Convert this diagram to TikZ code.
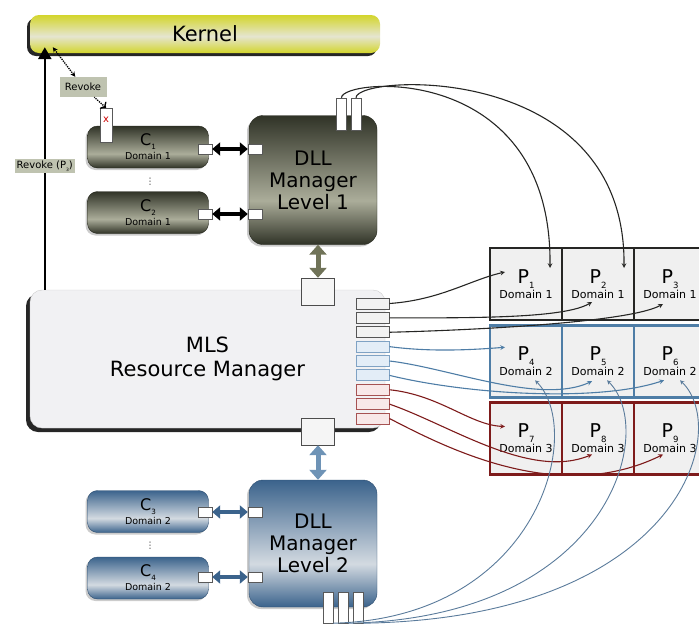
\documentclass[tikz,border=0pt]{standalone}
\usepackage{fontspec}
\setmainfont{DejaVu Sans}
\usepackage{xcolor}
\usepackage{tikz}
\usetikzlibrary{arrows, arrows.meta, positioning, shadows}

\definecolor{kernelyellow}{HTML}{D3D52B}
\definecolor{kernellight}{HTML}{E5E5D0}
\definecolor{olivedark}{HTML}{303327}
\definecolor{olivelight}{HTML}{ABAD9A}
\definecolor{oliveedge}{HTML}{24261C}
\definecolor{bluedark}{HTML}{3B638C}
\definecolor{bluelight}{HTML}{D3DAE1}
\definecolor{blueedge}{HTML}{2E4E70}
\definecolor{mlsgray}{HTML}{F1F1F3}
\definecolor{tagfill}{HTML}{BFC3B0}
\definecolor{rowblack}{HTML}{262624}
\definecolor{rowblue}{HTML}{4E7DA6}
\definecolor{rowred}{HTML}{7E1B1B}
\definecolor{portblack}{HTML}{555555}
\definecolor{portblue}{HTML}{7FA2C4}
\definecolor{portred}{HTML}{A65252}
\definecolor{fillblue}{HTML}{E3EDF7}
\definecolor{fillred}{HTML}{F8E8E8}
\definecolor{curveblue}{HTML}{5A7B9B}
\definecolor{olivearrow}{HTML}{707358}
\definecolor{bluearrow}{HTML}{6E93B6}

\pgfdeclareverticalshading{kernelshade}{100bp}{color(0bp)=(kernelyellow); color(25bp)=(kernelyellow); color(47bp)=(kernellight); color(75bp)=(kernelyellow); color(100bp)=(kernelyellow)}
\pgfdeclareverticalshading{oliveshade}{100bp}{color(0bp)=(olivedark); color(25bp)=(olivedark); color(42bp)=(olivelight); color(75bp)=(olivedark); color(100bp)=(olivedark)}
\pgfdeclareverticalshading{blueshade}{100bp}{color(0bp)=(bluedark); color(25bp)=(bluedark); color(42bp)=(bluelight); color(75bp)=(bluedark); color(100bp)=(bluedark)}

\newcommand{\lowidx}[1]{\raisebox{-0.25em}{\scalebox{0.45}{#1}}}

\tikzstyle{kernelbox} = [rectangle, rounded corners=9pt, minimum width=350pt, minimum height=38pt, shading=kernelshade, font=\fontsize{21}{24}\selectfont, drop shadow={shadow xshift=-3pt, shadow yshift=-3pt, opacity=0.85, fill=black}]
\tikzstyle{client} = [rectangle, rounded corners=10pt, minimum width=121pt, minimum height=42pt, inner sep=0pt, align=center, font=\fontsize{9.5}{14}\selectfont, drop shadow={shadow xshift=-2pt, shadow yshift=-2pt, opacity=0.4}]
\tikzstyle{dll} = [rectangle, rounded corners=14pt, minimum width=128pt, minimum height=129pt, inner sep=0pt, align=center, font=\fontsize{20}{22}\selectfont, drop shadow={shadow xshift=-2pt, shadow yshift=-2pt, opacity=0.4}]
\tikzstyle{mlsbox} = [rectangle, rounded corners=12pt, draw=gray!40, fill=mlsgray, minimum width=355pt, minimum height=138pt, align=center, font=\fontsize{21}{24}\selectfont, drop shadow={shadow xshift=-4pt, shadow yshift=-4pt, opacity=0.85, fill=black}]
\tikzstyle{port} = [rectangle, draw=gray!70!black, fill=white, inner sep=0pt, minimum width=14pt, minimum height=10pt]
\tikzstyle{tallport} = [rectangle, draw=gray!70!black, fill=white, inner sep=0pt, minimum width=10pt, minimum height=32pt]
\tikzstyle{slot} = [rectangle, draw=gray!60!black, fill=gray!8, inner sep=0pt, minimum width=33pt, minimum height=27pt]
\tikzstyle{mport} = [rectangle, inner sep=0pt, minimum width=33pt, minimum height=11pt, line width=1pt]
\tikzstyle{cell} = [rectangle, fill=gray!12, minimum width=72pt, minimum height=72pt, line width=2.5pt, align=center, inner sep=0pt, font=\fontsize{11}{15}\selectfont]
\tikzstyle{tag} = [rectangle, fill=tagfill, inner sep=2pt, font=\fontsize{10}{11}\selectfont]
\tikzstyle{dots} = [inner sep=0pt, text=gray!40!black, font=\fontsize{9}{9}\selectfont]
\tikzstyle{link} = [->, >=stealth, line width=1.1pt]
\tikzstyle{dbl} = [{Triangle[length=8pt,width=13pt]}-{Triangle[length=8pt,width=13pt]}, line width=3.5pt]
\tikzstyle{vdbl} = [{Triangle[length=10pt,width=17pt]}-{Triangle[length=10pt,width=17pt]}, line width=5pt]
\tikzstyle{bigarrow} = [-{Triangle[length=12pt,width=13pt]}, line width=2.5pt]
\tikzstyle{dotarrow} = [densely dotted, line width=1.3pt, {Stealth[length=5pt,width=5pt]}-{Stealth[length=5pt,width=5pt]}]

\begin{document}
\begin{tikzpicture}[x=1pt, y=-1pt]
\useasboundingbox (0,0) rectangle (699,627);

% Kernel
\node[kernelbox] (kernel) at (205,34) {Kernel};

% Level 1 clients and manager
\node[client, shading=oliveshade, draw=oliveedge] (c1) at (148,147) {{\fontsize{16}{14}\selectfont C\lowidx{1}}\\Domain 1};
\node[client, shading=oliveshade, draw=oliveedge] (c2) at (148,212.5) {{\fontsize{16}{14}\selectfont C\lowidx{2}}\\Domain 1};
\node[dots] (gap1) at (150,182) {⋮};
\node[dll, shading=oliveshade, draw=oliveedge] (d1) at (313,180) {DLL\\Manager\\Level 1};
\node[port] (c1port) at (205,149) {};
\node[port] (c2port) at (205,214) {};
\node[port] (d1p1) at (255,149) {};
\node[port] (d1p2) at (255,214) {};
\node[tallport] (d1a) at (341.5,114) {};
\node[tallport] (d1b) at (356,114) {};

% Revoke
\node[tallport, minimum width=12pt, minimum height=34pt] (cut) at (106,125) {};
\node[text=red!80!black, font=\fontsize{10}{10}\selectfont] (cutmark) at (106,120) {x};
\node[tag, minimum width=47pt, minimum height=20pt] (revoke) at (83,87) {Revoke};

% MLS resource manager
\node[mlsbox] (mls) at (207.5,359) {MLS\\Resource Manager};
\node[slot] (mtop) at (318,291.5) {};
\node[slot] (mbot) at (318,431.5) {};
\foreach \i/\clr/\fl in {1/portblack/gray!10, 2/portblack/gray!10, 3/portblack/gray!10, 4/portblue/fillblue, 5/portblue/fillblue, 6/portblue/fillblue, 7/portred/fillred, 8/portred/fillred, 9/portred/fillred}
  \node[mport, draw=\clr, fill=\fl] (mp\i) at (372.5, 303.5+14.375*\i-14.375) {};

% Level 2 clients and manager
\node[client, shading=blueshade, draw=blueedge] (c3) at (148,511.5) {{\fontsize{16}{14}\selectfont C\lowidx{3}}\\Domain 2};
\node[client, shading=blueshade, draw=blueedge] (c4) at (148,578) {{\fontsize{16}{14}\selectfont C\lowidx{4}}\\Domain 2};
\node[dots] (gap2) at (150,546) {⋮};
\node[dll, shading=blueshade, draw=blueedge, minimum height=127pt] (d2) at (313,543.5) {DLL\\Manager\\Level 2};
\node[port] (c3port) at (205,512) {};
\node[port] (c4port) at (205,577) {};
\node[port] (d2p1) at (255,512) {};
\node[port] (d2p2) at (255,577) {};
\node[tallport, minimum height=31pt] (d2a) at (328,607.5) {};
\node[tallport, minimum height=31pt] (d2b) at (343,607.5) {};
\node[tallport, minimum height=31pt] (d2c) at (358,607.5) {};

% Partitions
\foreach \row/\clr in {0/rowblack, 1/rowblue, 2/rowred}
  \foreach \col in {0,1,2} {
    \pgfmathtruncatemacro{\num}{3*\row+\col+1}
    \pgfmathtruncatemacro{\dom}{\row+1}
    \node[cell, draw=\clr] (p\num) at (526+72*\col, 284+77.25*\row) {{\fontsize{19}{15}\selectfont P\lowidx{\num}}\\Domain \dom};
  }

% Connections
\draw[bigarrow] ([xshift=15pt]mls.north west) -- ([xshift=15pt,yshift=6pt]kernel.south west) node[tag, pos=0.51] (revokep) {Revoke (P\lowidx{3})};
\draw[dotarrow] ([xshift=23pt,yshift=6pt]kernel.south west) -- (revoke);
\draw[dotarrow, <-] (cut.north) -- (revoke);
\draw[dbl] (c1port.east) -- (d1p1.west);
\draw[dbl] (c2port.east) -- (d1p2.west);
\draw[dbl, draw=bluedark] (c3port.east) -- (d2p1.west);
\draw[dbl, draw=bluedark] (c4port.east) -- (d2p2.west);
\draw[vdbl, draw=olivearrow] (mtop.north |- d1.south) -- (mtop.north);
\draw[vdbl, draw=bluearrow] (mbot.south) -- (mbot.south |- d2.north);

\draw[link, rowblack] (d1a.north) .. controls (341,78) and (552,60) .. ([shift={(24,-16)}]p1.center);
\draw[link, rowblack] (d1b.north) .. controls (356,74) and (626,60) .. ([shift={(26,-16)}]p2.center);

\draw[link, rowblack] (mp1.east) .. controls (440,300) and (470,280) .. ([shift={(-21,-12)}]p1.center);
\draw[link, rowblack] (mp2.east) .. controls (480,318) and (565,318) .. ([shift={(-6,18)}]p2.center);
\draw[link, rowblack] (mp3.east) .. controls (480,330) and (630,322) .. ([shift={(-7,20)}]p3.center);
\draw[link, rowblue] (mp4.east) .. controls (430,352) and (470,350) .. ([shift={(-21,-14)}]p4.center);
\draw[link, rowblue] (mp5.east) .. controls (450,368) and (540,405) .. ([shift={(-6,20)}]p5.center);
\draw[link, rowblue] (mp6.east) .. controls (470,395) and (600,402) .. ([shift={(-6,19)}]p6.center);
\draw[link, rowred] (mp7.east) .. controls (440,395) and (470,425) .. ([shift={(-21,-12)}]p7.center);
\draw[link, rowred] (mp8.east) .. controls (450,425) and (530,480) .. ([shift={(-6,16)}]p8.center);
\draw[link, rowred] (mp9.east) .. controls (450,450) and (560,505) .. ([shift={(-7,16)}]p9.center);

\draw[link, curveblue, line width=0.9pt] (d2a.south east) .. controls (540,618) and (585,430) .. ([shift={(9,19)}]p4.center);
\draw[link, curveblue, line width=0.9pt] (d2b.south east) .. controls (610,618) and (658,430) .. ([shift={(9,19)}]p5.center);
\draw[link, curveblue, line width=0.9pt] (d2c.south east) .. controls (680,618) and (732,430) .. ([shift={(10,19)}]p6.center);

\end{tikzpicture}
\end{document}
